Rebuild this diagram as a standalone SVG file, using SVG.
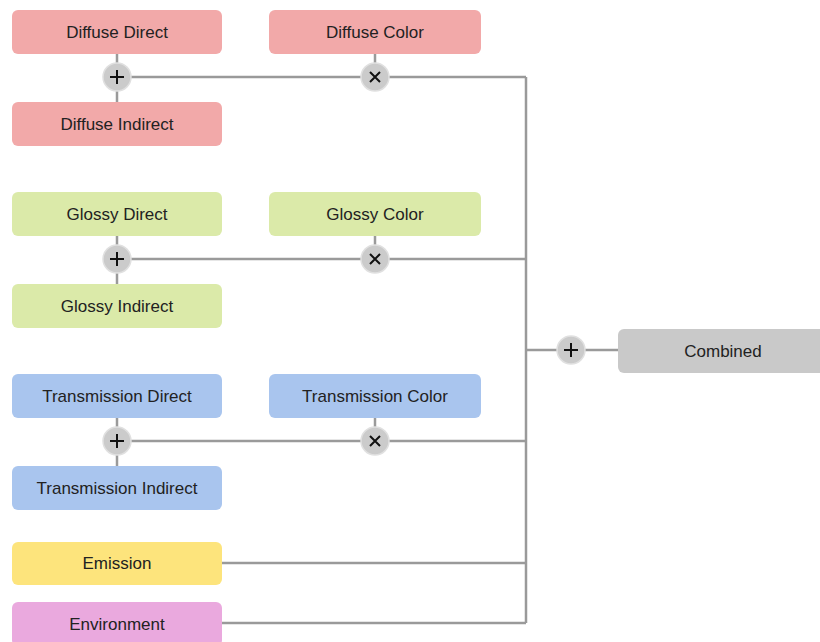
<svg xmlns="http://www.w3.org/2000/svg" width="820" height="642" viewBox="0 0 820 642">
<style>
.box{stroke:none}
.red{fill:#f2a9a9}.green{fill:#dbeaa9}.blue{fill:#a9c5ee}.yellow{fill:#fde47c}.pink{fill:#eaa9de}.gray{fill:#c9c9c9}
text{font-family:"Liberation Sans",Arial,sans-serif;font-size:17px;fill:#222;text-anchor:middle;dominant-baseline:central}
.op{fill:#cbcbcb;stroke:#e0e0e0;stroke-width:1.5}
.sym{stroke:#111;stroke-width:2;fill:none}
.wire{stroke:#9a9a9a;stroke-width:2.5;fill:none}
</style>
<rect width="820" height="642" fill="#fff"/>
<g id="connectors">
<path class="wire" d="M117 54V102M117 236V284M117 418V466M375 54V77M375 236V259M375 418V441"/>
<path class="wire" d="M117 77H526M117 259H526M117 441H526M222 563H526M222 623H526M526 77V623M526 350H618"/>
</g>
<g id="diffuse-direct"><rect class="box red" x="12" y="10" width="210" height="44" rx="6"/><text x="117" y="32">Diffuse Direct</text></g>
<g id="diffuse-indirect"><rect class="box red" x="12" y="102" width="210" height="44" rx="6"/><text x="117" y="124">Diffuse Indirect</text></g>
<g id="diffuse-color"><rect class="box red" x="269" y="10" width="212" height="44" rx="6"/><text x="375" y="32">Diffuse Color</text></g>
<g id="glossy-direct"><rect class="box green" x="12" y="192" width="210" height="44" rx="6"/><text x="117" y="214">Glossy Direct</text></g>
<g id="glossy-indirect"><rect class="box green" x="12" y="284" width="210" height="44" rx="6"/><text x="117" y="306">Glossy Indirect</text></g>
<g id="glossy-color"><rect class="box green" x="269" y="192" width="212" height="44" rx="6"/><text x="375" y="214">Glossy Color</text></g>
<g id="transmission-direct"><rect class="box blue" x="12" y="374" width="210" height="44" rx="6"/><text x="117" y="396">Transmission Direct</text></g>
<g id="transmission-indirect"><rect class="box blue" x="12" y="466" width="210" height="44" rx="6"/><text x="117" y="488">Transmission Indirect</text></g>
<g id="transmission-color"><rect class="box blue" x="269" y="374" width="212" height="44" rx="6"/><text x="375" y="396">Transmission Color</text></g>
<g id="emission"><rect class="box yellow" x="12" y="542" width="210" height="43" rx="6"/><text x="117" y="563">Emission</text></g>
<g id="environment"><rect class="box pink" x="12" y="602" width="210" height="44" rx="6"/><text x="117" y="624">Environment</text></g>
<g id="combined"><rect class="box gray" x="618" y="329" width="210" height="44" rx="6"/><text x="723" y="351">Combined</text></g>
<g id="add-diffuse"><circle class="op" cx="117" cy="77" r="14"/><path class="sym" d="M110 77H124M117 70V84"/></g>
<g id="add-glossy"><circle class="op" cx="117" cy="259" r="14"/><path class="sym" d="M110 259H124M117 252V266"/></g>
<g id="add-transmission"><circle class="op" cx="117" cy="441" r="14"/><path class="sym" d="M110 441H124M117 434V448"/></g>
<g id="mul-diffuse"><circle class="op" cx="375" cy="77" r="14"/><path class="sym" d="M370 72L380 82M380 72L370 82"/></g>
<g id="mul-glossy"><circle class="op" cx="375" cy="259" r="14"/><path class="sym" d="M370 254L380 264M380 254L370 264"/></g>
<g id="mul-transmission"><circle class="op" cx="375" cy="441" r="14"/><path class="sym" d="M370 436L380 446M380 436L370 446"/></g>
<g id="add-combined"><circle class="op" cx="571" cy="350" r="14"/><path class="sym" d="M564 350H578M571 343V357"/></g>
</svg>
